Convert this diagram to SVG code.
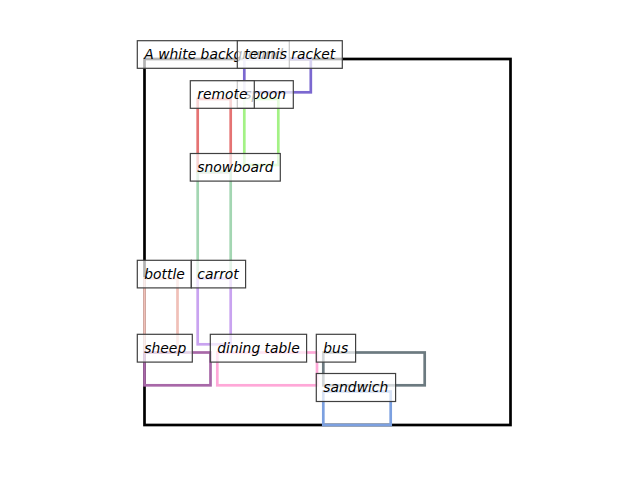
<svg xmlns="http://www.w3.org/2000/svg" width="640" height="480" viewBox="0 0 640 480">
<style>
.box{fill:none;stroke-width:2.7}
.lbl rect{fill:#ffffff;fill-opacity:0.7;stroke:#404040;stroke-width:1.2}
.lbl text{font-family:"DejaVu Sans",sans-serif;font-style:oblique;font-size:13.89px;fill:#000}
</style>
<rect width="640" height="480" fill="#ffffff"/>
<g id="connectors">
<rect id="r-bg" class="box" x="144.5" y="59" width="366" height="366" stroke="#000000" stroke-width="2"/>
<rect id="r-tennis" class="box" x="244.3" y="59" width="66.5" height="33.3" stroke="#7b68d0"/>
<rect id="r-remote" class="box" x="197.7" y="99" width="33" height="73" stroke="#e57373"/>
<rect id="r-spoon" class="box" x="244.3" y="99" width="34" height="66" stroke="#a3f285"/>
<rect id="r-snowboard" class="box" x="197.7" y="172" width="33" height="106" stroke="#a3d6b2"/>
<rect id="r-bottle" class="box" x="144.5" y="278.5" width="33" height="74" stroke="#f0c0b8"/>
<rect id="r-carrot" class="box" x="197.7" y="278.5" width="33" height="65.8" stroke="#c9a3f0"/>
<rect id="r-sheep" class="box" x="144.5" y="352.5" width="66" height="32.8" stroke="#a868a8"/>
<rect id="r-dining" class="box" x="217.3" y="352.5" width="99.7" height="32.8" stroke="#ffa8d8"/>
<rect id="r-bus" class="box" x="323.3" y="352.5" width="101.4" height="32.8" stroke="#6c7a80"/>
<rect id="r-sandwich" class="box" x="323.3" y="391.5" width="67.4" height="33.5" stroke="#7ca0e0"/>
</g>
<g id="n-bg" class="lbl"><rect x="137.3" y="40.7" width="152" height="27.6"/><text x="144.3" y="59">A white background</text></g>
<g id="n-tennis" class="lbl"><rect x="237.3" y="40.7" width="105" height="27.6"/><text x="244.3" y="59">tennis racket</text></g>
<g id="n-spoon" class="lbl"><rect x="237.3" y="80.7" width="56" height="27.6"/><text x="244.3" y="99">spoon</text></g>
<g id="n-remote" class="lbl"><rect x="190.3" y="80.7" width="64" height="27.6"/><text x="197.3" y="99">remote</text></g>
<g id="n-snowboard" class="lbl"><rect x="190.3" y="153.5" width="90" height="27.6"/><text x="197.3" y="172">snowboard</text></g>
<g id="n-bottle" class="lbl"><rect x="137.3" y="260.3" width="54" height="27.6"/><text x="144.3" y="278.5">bottle</text></g>
<g id="n-carrot" class="lbl"><rect x="191.3" y="260.3" width="54.3" height="27.6"/><text x="197.3" y="278.5">carrot</text></g>
<g id="n-sheep" class="lbl"><rect x="137.3" y="334.3" width="55" height="27.8"/><text x="144.3" y="352.5">sheep</text></g>
<g id="n-dining" class="lbl"><rect x="210.3" y="334.3" width="96.3" height="27.8"/><text x="217.3" y="352.5">dining table</text></g>
<g id="n-bus" class="lbl"><rect x="316.3" y="334.3" width="39.3" height="27.8"/><text x="323.3" y="352.5">bus</text></g>
<g id="n-sandwich" class="lbl"><rect x="316.3" y="373.5" width="79.3" height="28"/><text x="323.3" y="391.7">sandwich</text></g>
</svg>
